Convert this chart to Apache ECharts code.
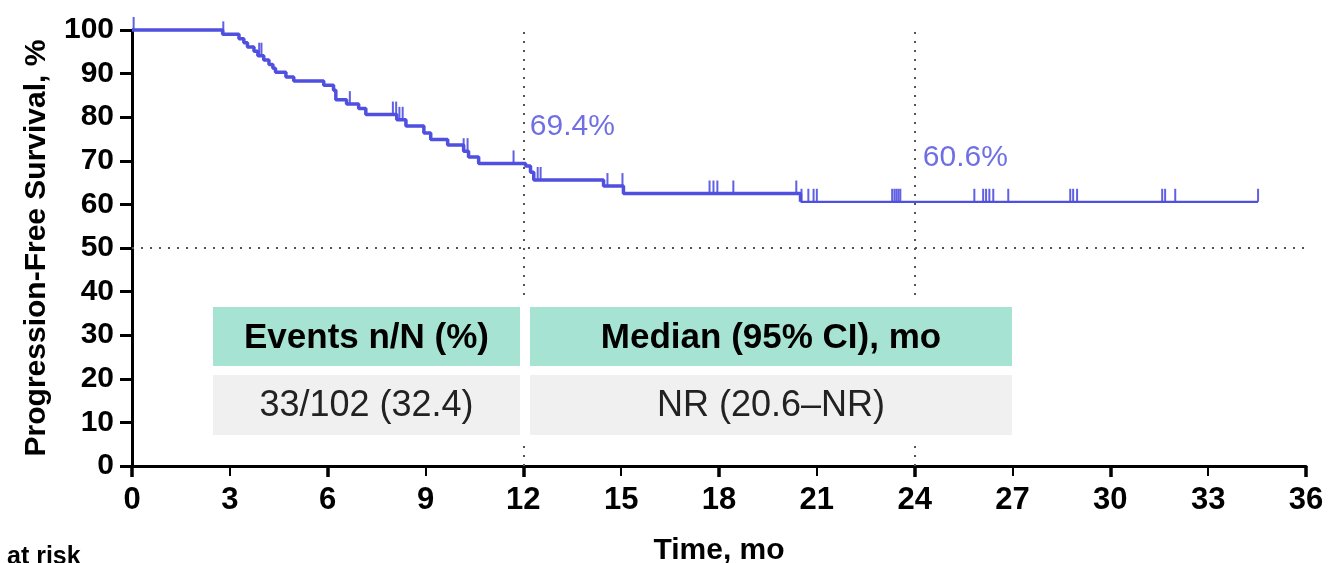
<!DOCTYPE html>
<html>
<head>
<meta charset="utf-8">
<script src="https://cdn.jsdelivr.net/npm/echarts@6/dist/echarts.min.js"></script>
<style>
  html, body { margin: 0; padding: 0; background: #fff; }
  #main { width: 1330px; height: 563px; }
</style>
</head>
<body>
<div id="main"></div>
<script>
// Kaplan-Meier steps: time (mo) of each drop and survival (%) from that time on
var kmTimes = [0, 2.78, 3.28, 3.43, 3.54, 3.74, 3.86, 4.04, 4.20, 4.32, 4.40, 4.72, 4.96,
  5.88, 6.18, 6.25, 6.58, 6.95, 7.17, 8.12, 8.40, 8.95, 9.16, 9.68, 10.17, 10.32, 10.63,
  12.07, 12.22, 12.32, 14.46, 15.07, 20.50, 34.53];
var kmSurv = [100, 99.0, 98.0, 97.1, 96.1, 95.1, 94.1, 93.1, 92.1, 91.2, 90.3, 89.2, 88.3,
  87.3, 86.2, 84.0, 83.0, 82.0, 80.6, 79.4, 78.0, 76.4, 74.9, 73.6, 72.2, 70.9, 69.4,
  68.8, 67.4, 65.6, 64.2, 62.5, 60.6, 60.6];
// censored patients (tick marks)
var censorTimes = [0.05, 2.80, 3.90, 3.97, 6.68, 8.00, 8.10, 8.20, 8.30, 10.17, 10.29, 11.70,
  12.44, 12.53, 14.58, 15.04, 17.71, 17.83, 17.95, 18.44, 20.37, 20.53, 20.74, 20.90, 21.00,
  23.31, 23.38, 23.44, 23.50, 23.56, 25.83, 26.10, 26.19, 26.29, 26.41, 26.87,
  28.77, 28.86, 28.98, 31.59, 31.68, 31.99, 34.53];
var xTicks = [0, 3, 6, 9, 12, 15, 18, 21, 24, 27, 30, 33, 36];
var yTicks = [0, 10, 20, 30, 40, 50, 60, 70, 80, 90, 100];
var landmarkTimes = [12, 24];
var landmarkLabels = ['69.4%', '60.6%'];
var landmarkLabelPos = [[12.2, 77.7], [24.25, 70.6]];
var tableHeaders = ['Events n/N (%)', 'Median (95% CI), mo'];
var tableValues = ['33/102 (32.4)', 'NR (20.6–NR)'];

var BLUE = '#4f4fe0';
var FONT = "'Liberation Sans', Arial, sans-serif";

function survAt(t) {
  var s = kmSurv[0];
  for (var i = 0; i < kmTimes.length; i++) {
    if (kmTimes[i] <= t) s = kmSurv[i];
  }
  return s;
}

var early = [], late = [];
kmTimes.forEach(function (t, i) {
  if (t <= 20.5) early.push([t, kmSurv[i]]);
  if (t >= 20.5) late.push([t, kmSurv[i]]);
});
var censors = censorTimes.map(function (t) { return [t, survAt(t)]; });

var myChart = echarts.init(document.getElementById('main'));
var option = {
  animation: false,
  grid: { left: 132, right: 24, top: 30, bottom: 97, outerBoundsMode: 'none', containLabel: false },
  xAxis: [{
    type: 'value',
    min: xTicks[0], max: xTicks[xTicks.length - 1], interval: xTicks[1] - xTicks[0],
    axisLine: { lineStyle: { color: '#000', width: 3 } },
    axisTick: { length: 10, lineStyle: { color: '#000', width: 2 } },
    axisLabel: { color: '#000', fontSize: 31, fontWeight: 'bold', fontFamily: FONT, margin: 19 },
    splitLine: { show: false },
    name: 'Time, mo', nameLocation: 'middle', nameGap: 70,
    nameTextStyle: { color: '#000', fontSize: 30, fontWeight: 'bold', fontFamily: FONT }
  }, {
    type: 'value', position: 'bottom',
    min: 0, max: 36, interval: 6,
    axisLine: { show: false },
    axisTick: { length: 11, lineStyle: { color: '#000', width: 3.5 } },
    axisLabel: { show: false },
    splitLine: { show: false }
  }],
  yAxis: {
    type: 'value',
    min: yTicks[0], max: yTicks[yTicks.length - 1], interval: yTicks[1] - yTicks[0],
    axisLine: { show: true, lineStyle: { color: '#000', width: 3 } },
    axisTick: { show: true, length: 12, lineStyle: { color: '#000', width: 3 } },
    axisLabel: { color: '#000', fontSize: 30, fontWeight: 'bold', fontFamily: FONT, margin: 18 },
    splitLine: { show: false },
    name: 'Progression-Free Survival, %', nameLocation: 'middle', nameGap: 80, nameRotate: 90,
    nameTextStyle: { color: '#000', fontSize: 30, fontWeight: 'bold', fontFamily: FONT }
  },
  series: [{
    type: 'line', step: 'end', data: early, showSymbol: false, clip: false, z: 3,
    lineStyle: { color: BLUE, width: 3.5 },
    markLine: {
      symbol: 'none', silent: true, label: { show: false }, z: 1,
      lineStyle: { color: '#555', width: 2, type: [2, 7] },
      data: landmarkTimes.map(function (t) {
        return [{ coord: [t, 0] }, { coord: [t, 100] }];
      }).concat([{ yAxis: 50 }])
    }
  }, {
    type: 'line', step: 'end', data: late, showSymbol: false, clip: false, z: 3,
    lineStyle: { color: BLUE, width: 2.2 }
  }, {
    type: 'scatter', data: censors, clip: false, z: 3,
    symbol: 'rect', symbolSize: [2, 13], symbolOffset: [0, '-50%'],
    itemStyle: { color: BLUE, opacity: 0.9 }
  }, {
    type: 'scatter', symbolSize: 0, z: 3,
    data: landmarkLabelPos.map(function (p, i) { return [p[0], p[1], landmarkLabels[i]]; }),
    label: {
      show: true, position: 'right', distance: 0,
      formatter: function (p) { return p.value[2]; },
      color: '#4b4bde', fontSize: 30, fontFamily: FONT
    }
  }],
  graphic: {
    z: 1000,
    elements: [
      // white backing of the summary table
      { type: 'rect', z: 999, shape: { x: 208, y: 300, width: 809, height: 141 }, style: { fill: '#fff' } },
      { type: 'rect', z: 1000, shape: { x: 213, y: 307, width: 307, height: 59 }, style: { fill: '#a7e3d3' } },
      { type: 'rect', z: 1000, shape: { x: 530, y: 307, width: 482, height: 59 }, style: { fill: '#a7e3d3' } },
      { type: 'rect', z: 1000, shape: { x: 213, y: 375, width: 307, height: 60 }, style: { fill: '#f0f0f0' } },
      { type: 'rect', z: 1000, shape: { x: 530, y: 375, width: 482, height: 60 }, style: { fill: '#f0f0f0' } },
      { type: 'text', z: 1001, x: 366.5, y: 338, style: { text: tableHeaders[0], align: 'center', verticalAlign: 'middle', fill: '#000', font: 'bold 35px ' + FONT } },
      { type: 'text', z: 1001, x: 771, y: 338, style: { text: tableHeaders[1], align: 'center', verticalAlign: 'middle', fill: '#000', font: 'bold 35px ' + FONT } },
      { type: 'text', z: 1001, x: 366.5, y: 406, style: { text: tableValues[0], align: 'center', verticalAlign: 'middle', fill: '#222', font: '36px ' + FONT } },
      { type: 'text', z: 1001, x: 771, y: 406, style: { text: tableValues[1], align: 'center', verticalAlign: 'middle', fill: '#222', font: '36px ' + FONT } },
      { type: 'text', z: 1001, x: 7, y: 557, style: { text: 'at risk', align: 'left', verticalAlign: 'middle', fill: '#000', font: 'bold 25px ' + FONT } }
    ]
  }
};
myChart.setOption(option, true);
</script>
</body>
</html>
